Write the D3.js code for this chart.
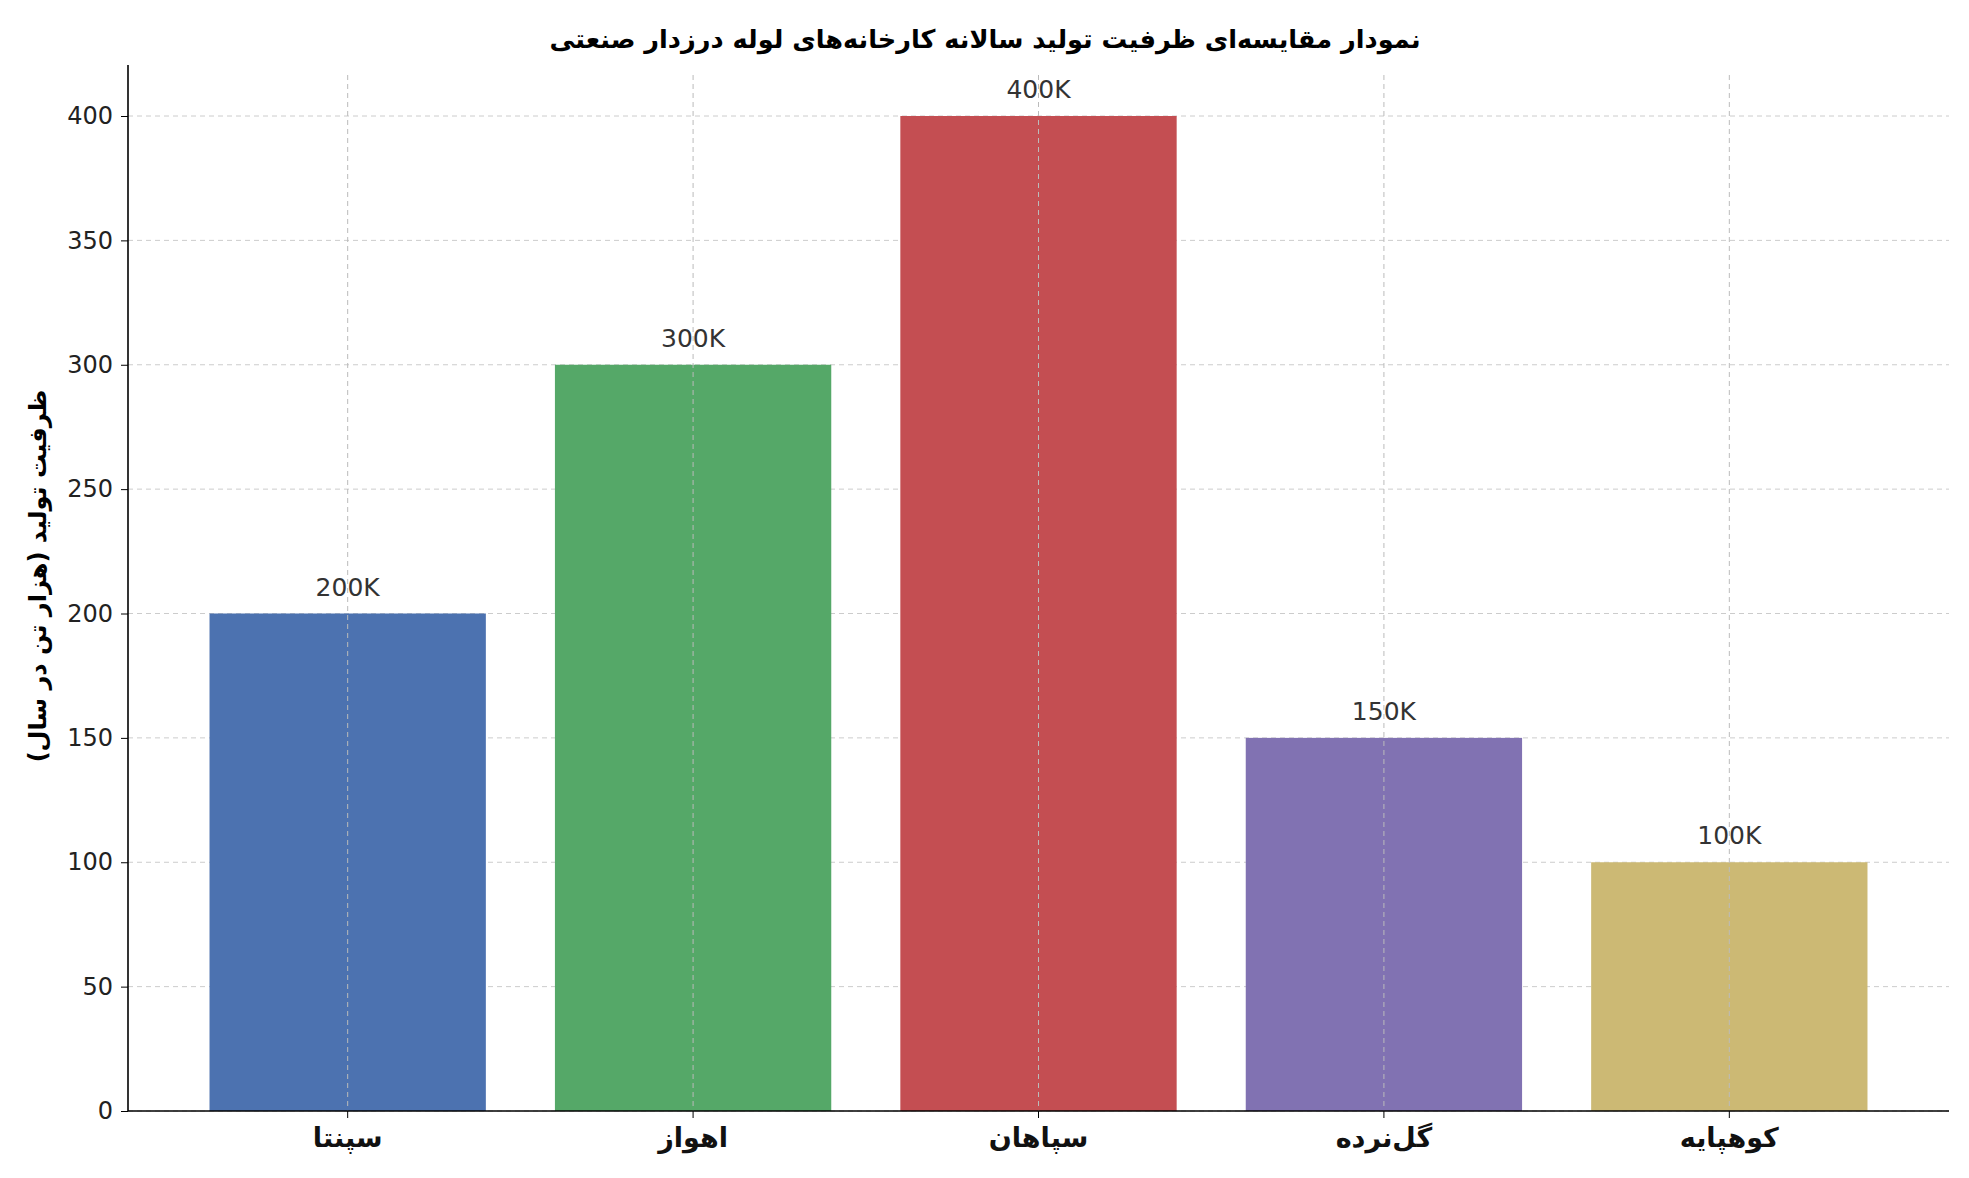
<!DOCTYPE html>
<html><head><meta charset="utf-8">
<script src="https://cdn.jsdelivr.net/npm/d3@7"></script>
<style>body{margin:0;background:#fff}text{font-family:"DejaVu Sans","Noto Sans",sans-serif}</style>
</head><body><svg id="c" width="1969" height="1178"></svg>
<script>
const categories=["سپنتا","اهواز","سپاهان","گل‌نرده","کوهپایه"];
const values=[200,300,400,150,100];
const labels=["200K","300K","400K","150K","100K"];
const colors=["#4c72b0","#55a868","#c44e52","#8172b2","#ccb974"];
const yTicks=[0,50,100,150,200,250,300,350,400];
const title="نمودار مقایسه‌ای ظرفیت تولید سالانه کارخانه‌های لوله درزدار صنعتی";
const yTitle="ظرفیت تولید (هزار تن در سال)";

const svg=d3.select("#c");
const L=128,R=1949,T=65,B=1111;
const x=d3.scaleBand().domain(categories).range([L,R]).paddingInner(0.2).paddingOuter(0.236);
const y=d3.scaleLinear().domain([0,400]).range([B,116]);

svg.append("g").selectAll("line").data(yTicks).join("line")
 .attr("x1",L).attr("x2",R).attr("y1",d=>y(d)).attr("y2",d=>y(d))
 .attr("stroke","#ccc").attr("stroke-dasharray","5,4").attr("stroke-width",1);
svg.append("g").selectAll("rect").data(values).join("rect")
 .attr("x",(d,i)=>x(categories[i])).attr("width",x.bandwidth())
 .attr("y",d=>y(d)).attr("height",d=>B-y(d)).attr("fill",(d,i)=>colors[i]);
svg.append("g").selectAll("line").data(categories).join("line")
 .attr("x1",d=>x(d)+x.bandwidth()/2).attr("x2",d=>x(d)+x.bandwidth()/2)
 .attr("y1",T+10).attr("y2",B).attr("stroke","#bbb").attr("stroke-dasharray","5,4");
svg.append("g").selectAll("text").data(values).join("text")
 .attr("x",(d,i)=>x(categories[i])+x.bandwidth()/2).attr("y",d=>y(d)-18)
 .attr("text-anchor","middle").attr("font-size",25).attr("fill","#333").text((d,i)=>labels[i]);
const ya=svg.append("g").attr("transform",`translate(${L},0)`)
 .call(d3.axisLeft(y).tickValues(yTicks).tickSize(7).tickPadding(8));
ya.select(".domain").attr("d",`M-0,${B}V${T}`).attr("stroke","#000").attr("stroke-width",1.6);
ya.selectAll("text").attr("font-size",24).attr("fill","#222");
const xa=svg.append("g").attr("transform",`translate(0,${B})`)
 .call(d3.axisBottom(x).tickSize(7).tickPadding(10));
xa.select(".domain").attr("d",`M${L},0H${R}`).attr("stroke","#000").attr("stroke-width",1.6);
xa.selectAll("text").attr("font-size",27).attr("font-weight","bold").attr("fill","#111").attr("direction","rtl");
svg.append("text").attr("x",985).attr("y",48).attr("text-anchor","middle")
 .attr("font-size",25.6).attr("font-weight","bold").attr("direction","rtl").text(title);
svg.append("text").attr("transform",`translate(46,${(T+B)/2-12}) rotate(-90)`)
 .attr("text-anchor","middle").attr("font-size",24).attr("font-weight","bold").attr("direction","rtl").text(yTitle);
</script></body></html>
